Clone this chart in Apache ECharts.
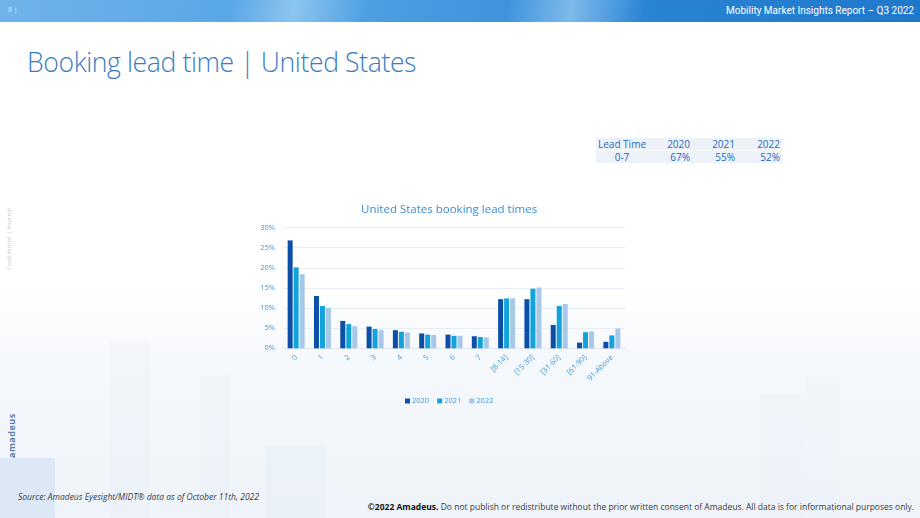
<!DOCTYPE html>
<html>
<head>
<meta charset="utf-8">
<script src="https://cdn.jsdelivr.net/npm/echarts@6/dist/echarts.min.js"></script>
<style>
  html, body { margin: 0; padding: 0; }
  body { width: 920px; height: 518px; overflow: hidden; font-family: "Open Sans", "Noto Sans", sans-serif; }
  .slide { position: relative; width: 920px; height: 518px;
    background: linear-gradient(180deg, #ffffff 0%, #ffffff 55%, #f5f8fc 70%, #eff4fa 100%); overflow: hidden; }
  .hdr { position: absolute; left: 0; top: 0; width: 920px; height: 22px;
    background: linear-gradient(100deg, #6fb3ea 0%, #5aa7e6 25%, #8cc4ef 32%, #4d9fe2 40%, #3f93dc 55%, #7db9ea 62%, #2a84d4 70%, #1f78cc 100%); }
  .hdr .t { position: absolute; right: 6px; top: 5px; font-size: 10px; color: #ffffff; font-family: "Roboto", sans-serif; }
  .hdr .p { position: absolute; left: 8px; top: 5px; font-size: 7px; color: #d8ecff; }
  .title { position: absolute; left: 27px; top: 44px; font-size: 26.6px; font-weight: 300; color: #3b7cc2;
    font-family: "Open Sans", "Lato", sans-serif; letter-spacing: -0.4px; white-space: nowrap; }
  table.lt { position: absolute; left: 596px; top: 138px; border-collapse: collapse; font-size: 10px; color: #1d6cc0;
    font-family: "Open Sans", sans-serif; white-space: nowrap; }
  table.lt td { background: #edf1f8; padding: 0 2px; height: 12px; line-height: 12px; border-bottom: 1px solid #ffffff; }
  .conf { position: absolute; left: 5px; top: 270px; transform-origin: left top; transform: rotate(-90deg);
    font-size: 6px; color: #c8ccd4; white-space: nowrap; }
  .logo { position: absolute; left: 5px; top: 458px; transform-origin: left top; transform: rotate(-90deg);
    font-size: 9px; font-weight: bold; color: #5d7fa8; white-space: nowrap; letter-spacing: 0.5px; }
  .src { position: absolute; left: 18px; top: 491px; font-size: 8.5px; font-style: italic; color: #3a3a3a;
    font-family: "Liberation Sans Narrow", "Open Sans", sans-serif; }
  .copy { position: absolute; right: 6px; top: 501px; font-size: 8.5px; color: #3a3a3a;
    font-family: "Liberation Sans Narrow", "Open Sans", sans-serif; }
  .copy b { color: #111; font-weight: bold; }
  .bld { position: absolute; background: #dbe7f6; }
  #chart { position: absolute; left: 230px; top: 190px; width: 420px; height: 225px; }
</style>
</head>
<body>
<div class="slide">
  <div class="bld" style="left:0;top:458px;width:55px;height:60px;background:#cfe0f3;opacity:0.6;"></div>
  <div class="bld" style="left:110px;top:340px;width:40px;height:178px;opacity:0.12;"></div>
  <div class="bld" style="left:200px;top:375px;width:30px;height:143px;opacity:0.12;"></div>
  <div class="bld" style="left:265px;top:445px;width:60px;height:73px;opacity:0.2;"></div>
  <div class="bld" style="left:760px;top:395px;width:45px;height:123px;opacity:0.12;"></div>
  <div class="bld" style="left:805px;top:375px;width:35px;height:143px;opacity:0.1;"></div>

  <div class="hdr"><span class="p">8 |</span><span class="t">Mobility Market Insights Report – Q3 2022</span></div>
  <div class="title">Booking lead time | United States</div>

  <table class="lt">
    <tr><td style="width:48px;">Lead Time</td><td style="width:40px;text-align:right;">2020</td><td style="width:41px;text-align:right;">2021</td><td style="width:41px;text-align:right;">2022</td></tr>
    <tr><td style="text-align:center;">0-7</td><td style="text-align:right;">67%</td><td style="text-align:right;">55%</td><td style="text-align:right;">52%</td></tr>
  </table>

  <div class="conf">Confidential | Internal</div>
  <div class="logo">amadeus</div>

  <div id="chart"></div>

  <div class="src">Source: Amadeus Eyesight/MIDT® data as of October 11th, 2022</div>
  <div class="copy"><b>©2022 Amadeus.</b> Do not publish or redistribute without the prior written consent of Amadeus. All data is for informational purposes only.</div>
</div>

<script>
// lead time buckets (days)
var categories = ['0', '1', '2', '3', '4', '5', '6', '7', '[8-14]', '[15-30]', '[31-60]', '[61-90]', '91-Above'];

// share of bookings, %
var y2020 = [26.8, 13.0, 6.8, 5.4, 4.5, 3.7, 3.4, 3.0, 12.2, 12.2, 5.8, 1.4, 1.6];
var y2021 = [20.1, 10.5, 6.0, 4.8, 4.1, 3.4, 3.1, 2.8, 12.4, 14.8, 10.5, 4.0, 3.2];
var y2022 = [18.4, 10.0, 5.5, 4.5, 3.9, 3.3, 3.1, 2.7, 12.4, 15.1, 11.0, 4.2, 4.9];

var chart = echarts.init(document.getElementById('chart'));

var labelColor = '#3c9be0';

function bar(name, data, color) {
  return {
    name: name,
    type: 'bar',
    data: data,
    barWidth: 5,
    barGap: '20%',
    itemStyle: { color: color },
    emphasis: { disabled: true }
  };
}

var option = {
  animation: false,
  backgroundColor: 'transparent',
  textStyle: { fontFamily: 'Open Sans' },
  title: {
    text: 'United States booking lead times',
    left: 126,
    top: 9,
    textStyle: { color: '#3a8ddb', fontSize: 11.5, fontWeight: 'normal', fontFamily: 'Open Sans' }
  },
  legend: {
    data: ['2020', '2021', '2022'],
    top: 202,
    left: 170,
    itemWidth: 5,
    itemHeight: 5,
    itemGap: 8,
    icon: 'rect',
    textStyle: { color: labelColor, fontSize: 7.5, padding: [0, 0, 0, -3] }
  },
  grid: { left: 53, right: 25, top: 37.5, bottom: 66.7 },
  xAxis: {
    type: 'category',
    data: categories,
    axisLine: { lineStyle: { color: '#dfe6ef' } },
    axisTick: { show: false },
    axisLabel: { color: labelColor, fontSize: 7.5, rotate: 45, interval: 0, margin: 8 }
  },
  yAxis: {
    type: 'value',
    min: 0,
    max: 30,
    interval: 5,
    axisLine: { show: false },
    axisTick: { show: false },
    splitLine: { lineStyle: { color: '#e6edf6' } },
    axisLabel: { color: labelColor, fontSize: 7.5, formatter: '{value}%', margin: 8 }
  },
  series: [
    bar('2020', y2020, '#0b4fa8'),
    bar('2021', y2021, '#12a3dc'),
    bar('2022', y2022, '#a8c8e9')
  ]
};

chart.setOption(option);
</script>
</body>
</html>
